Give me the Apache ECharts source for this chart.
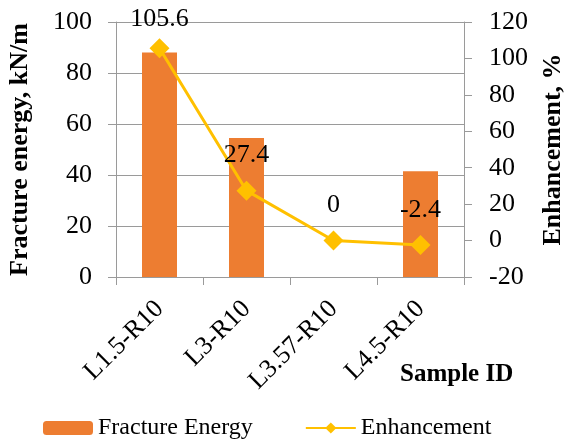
<!DOCTYPE html>
<html><head><meta charset="utf-8">
<script src="https://cdn.jsdelivr.net/npm/echarts@6/dist/echarts.min.js"></script>
<style>html,body{margin:0;padding:0;background:#fff}#c{width:564px;height:443px}</style>
</head><body><div id="c"></div>
<script>
const categories = ['L1.5-R10', 'L3-R10', 'L3.57-R10', 'L4.5-R10'];
const fractureEnergy = [88, 54.5, null, 41.5];
const enhancement = [105.6, 27.4, 0, -2.4];
const F = 'Liberation Serif, Times New Roman, serif';
const chart = echarts.init(document.getElementById('c'));
const lineData = enhancement.map((v, i) => i === 0 ? { value: v, label: { distance: 6 } } : v);
chart.setOption({
  animation: false,
  grid: { left: 116, right: 100, top: 22, bottom: 166, containLabel: false, outerBoundsMode: 'none' },
  legend: {
    left: 38, top: 411, itemWidth: 50, itemHeight: 14, itemGap: 52,
    textStyle: { fontFamily: F, fontSize: 24, color: '#000' },
    data: ['Fracture Energy', 'Enhancement']
  },
  xAxis: {
    type: 'category', data: categories, boundaryGap: true,
    axisLine: { lineStyle: { color: '#9a9a9a', width: 1 } },
    axisTick: { show: true, length: 8, alignWithLabel: false, lineStyle: { color: '#9a9a9a' } },
    axisLabel: { rotate: 45, margin: 28, fontFamily: F, fontSize: 26, color: '#000', interval: 0 }
  },
  yAxis: [{
    type: 'value', min: 0, max: 100, interval: 20,
    name: 'Fracture energy, kN/m', nameLocation: 'middle', nameGap: 83, nameRotate: 90,
    nameTextStyle: { fontFamily: F, fontSize: 26, fontWeight: 'bold', color: '#000' },
    axisLine: { show: true, lineStyle: { color: '#9a9a9a' } },
    axisTick: { show: true, length: 8, lineStyle: { color: '#9a9a9a' } },
    splitLine: { show: true, lineStyle: { color: '#9a9a9a', width: 1 } },
    axisLabel: { margin: 24, fontFamily: F, fontSize: 26, color: '#000' }
  }, {
    type: 'value', min: -20, max: 120, interval: 20, position: 'right',
    name: 'Enhancement, %', nameLocation: 'middle', nameGap: 76, nameRotate: 90,
    nameTextStyle: { fontFamily: F, fontSize: 26, fontWeight: 'bold', color: '#000' },
    axisLine: { show: true, lineStyle: { color: '#9a9a9a' } },
    axisTick: { show: true, length: 8, lineStyle: { color: '#9a9a9a' } },
    splitLine: { show: false },
    axisLabel: { margin: 25, fontFamily: F, fontSize: 26, color: '#000' }
  }],
  graphic: [{
    type: 'text', left: 400, top: 362,
    style: { text: 'Sample ID', font: 'bold 25px ' + F, fill: '#000' }
  }],
  series: [{
    name: 'Fracture Energy', type: 'bar', data: fractureEnergy, barWidth: 35,
    itemStyle: { color: '#ED7D31' }
  }, {
    name: 'Enhancement', type: 'line', yAxisIndex: 1, data: lineData,
    symbol: 'diamond', symbolSize: 20,
    lineStyle: { color: '#FFC000', width: 3 },
    itemStyle: { color: '#FFC000' },
    label: { show: true, position: 'top', distance: 12, fontFamily: F, fontSize: 26, color: '#000' }
  }]
});
</script></body></html>
